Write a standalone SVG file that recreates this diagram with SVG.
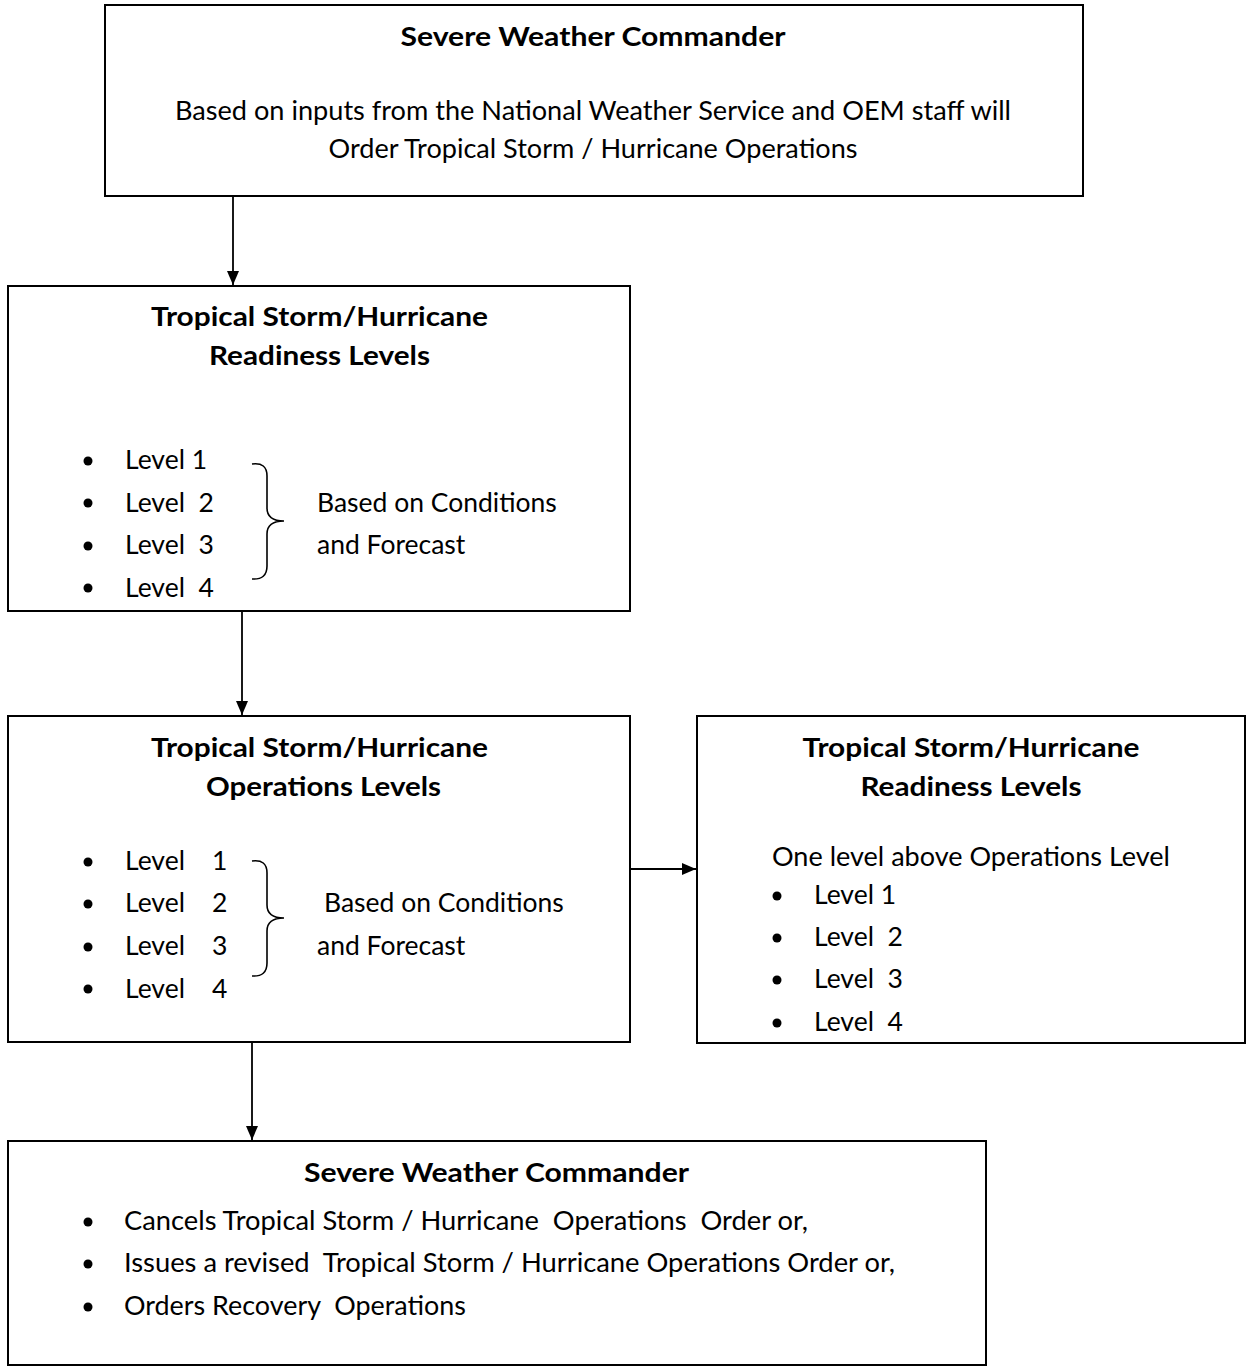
<svg xmlns="http://www.w3.org/2000/svg" width="1246" height="1367" viewBox="0 0 1246 1367">
  <style>
    .box { fill: #fff; stroke: #000; stroke-width: 2; }
    .t { font-family: Lato, "Liberation Sans", sans-serif; font-size: 26.5px; fill: #000; }
    .b { font-weight: bold; font-size: 27px; }
    .c { text-anchor: middle; }
    .wire { stroke: #000; stroke-width: 1.8; fill: none; }
    .brace { stroke: #000; stroke-width: 1.6; fill: none; }
  </style>
  <defs>
    <marker id="arr" viewBox="0 0 14 14" refX="14" refY="7" markerWidth="14" markerHeight="14" markerUnits="userSpaceOnUse" orient="auto">
      <path d="M0,1 L14,7 L0,13 z" fill="#000"/>
    </marker>
  </defs>
  <rect width="1246" height="1367" fill="#fff"/>

  <!-- connectors -->
  <g id="connectors">
    <line class="wire" x1="233" y1="197" x2="233" y2="285" marker-end="url(#arr)"/>
    <line class="wire" x1="242" y1="612" x2="242" y2="715" marker-end="url(#arr)"/>
    <line class="wire" x1="631" y1="869" x2="696" y2="869" marker-end="url(#arr)"/>
    <line class="wire" x1="252" y1="1043" x2="252" y2="1140" marker-end="url(#arr)"/>
  </g>

  <!-- top commander -->
  <g id="commander-order">
    <rect class="box" x="105" y="5" width="978" height="191"/>
    <text class="t b c" x="593" y="46" textLength="385" lengthAdjust="spacingAndGlyphs">Severe Weather Commander</text>
    <text class="t c" x="593" y="120" textLength="836" lengthAdjust="spacingAndGlyphs">Based on inputs from the National Weather Service and OEM staff will</text>
    <text class="t c" x="593" y="158" textLength="529" lengthAdjust="spacingAndGlyphs">Order Tropical Storm / Hurricane Operations</text>
  </g>

  <!-- readiness levels -->
  <g id="readiness-levels">
    <rect class="box" x="8" y="286" width="622" height="325"/>
    <text class="t b c" x="319.5" y="326" textLength="337" lengthAdjust="spacingAndGlyphs">Tropical Storm/Hurricane</text>
    <text class="t b c" x="319.5" y="365" textLength="221" lengthAdjust="spacingAndGlyphs">Readiness Levels</text>
    <g class="t">
      <circle cx="88" cy="461" r="4.5"/>
      <circle cx="88" cy="503" r="4.5"/>
      <circle cx="88" cy="546" r="4.5"/>
      <circle cx="88" cy="588" r="4.5"/>
      <text x="125" y="469">Level 1</text>
      <text x="125" y="512" xml:space="preserve">Level  2</text>
      <text x="125" y="554" xml:space="preserve">Level  3</text>
      <text x="125" y="597" xml:space="preserve">Level  4</text>
      <text x="317" y="512">Based on Conditions</text>
      <text x="317" y="554">and Forecast</text>
    </g>
    <path class="brace" d="M252,464 Q267,462 267,476 L267,508 Q267,521 284,521 Q267,521 267,534 L267,566 Q267,580 252,579"/>
  </g>

  <!-- operations levels -->
  <g id="operations-levels">
    <rect class="box" x="8" y="716" width="622" height="326"/>
    <text class="t b c" x="319.5" y="757" textLength="337" lengthAdjust="spacingAndGlyphs">Tropical Storm/Hurricane</text>
    <text class="t b c" x="323.5" y="796" textLength="235" lengthAdjust="spacingAndGlyphs">Operations Levels</text>
    <g class="t">
      <circle cx="88" cy="862" r="4.5"/>
      <circle cx="88" cy="904" r="4.5"/>
      <circle cx="88" cy="947" r="4.5"/>
      <circle cx="88" cy="989" r="4.5"/>
      <text x="125" y="870">Level</text><text x="212" y="870">1</text>
      <text x="125" y="912">Level</text><text x="212" y="912">2</text>
      <text x="125" y="955">Level</text><text x="212" y="955">3</text>
      <text x="125" y="998">Level</text><text x="212" y="998">4</text>
      <text x="324" y="912">Based on Conditions</text>
      <text x="317" y="955">and Forecast</text>
    </g>
    <path class="brace" d="M252,861 Q267,859 267,873 L267,905 Q267,918 284,918 Q267,918 267,931 L267,963 Q267,977 252,976"/>
  </g>

  <!-- readiness levels (one above operations) -->
  <g id="readiness-above">
    <rect class="box" x="697" y="716" width="548" height="327"/>
    <text class="t b c" x="971" y="757" textLength="337" lengthAdjust="spacingAndGlyphs">Tropical Storm/Hurricane</text>
    <text class="t b c" x="971" y="796" textLength="221" lengthAdjust="spacingAndGlyphs">Readiness Levels</text>
    <g class="t">
      <text x="772" y="866" textLength="398" lengthAdjust="spacingAndGlyphs">One level above Operations Level</text>
      <circle cx="777" cy="896" r="4.5"/>
      <circle cx="777" cy="938" r="4.5"/>
      <circle cx="777" cy="980" r="4.5"/>
      <circle cx="777" cy="1023" r="4.5"/>
      <text x="814" y="904">Level 1</text>
      <text x="814" y="946" xml:space="preserve">Level  2</text>
      <text x="814" y="988" xml:space="preserve">Level  3</text>
      <text x="814" y="1031" xml:space="preserve">Level  4</text>
    </g>
  </g>

  <!-- final commander decision -->
  <g id="commander-decision">
    <rect class="box" x="8" y="1141" width="978" height="224"/>
    <text class="t b c" x="496.5" y="1182" textLength="385" lengthAdjust="spacingAndGlyphs">Severe Weather Commander</text>
    <g class="t">
      <circle cx="88" cy="1222" r="4.5"/>
      <circle cx="88" cy="1264" r="4.5"/>
      <circle cx="88" cy="1307" r="4.5"/>
      <text x="124" y="1230" xml:space="preserve" textLength="684" lengthAdjust="spacingAndGlyphs">Cancels Tropical Storm / Hurricane  Operations  Order or,</text>
      <text x="124" y="1272" xml:space="preserve" textLength="771" lengthAdjust="spacingAndGlyphs">Issues a revised  Tropical Storm / Hurricane Operations Order or,</text>
      <text x="124" y="1315" xml:space="preserve" textLength="342" lengthAdjust="spacingAndGlyphs">Orders Recovery  Operations</text>
    </g>
  </g>
</svg>
